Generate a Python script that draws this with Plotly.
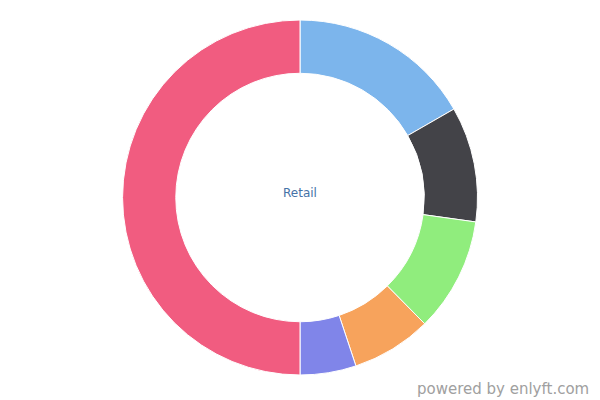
import plotly.graph_objects as go

labels = ["A", "B", "C", "D", "E", "F"]
values = [16.7, 10.5, 10.4, 7.3, 5.1, 50.0]
colors = ["#7cb5ec", "#434348", "#90ed7d", "#f7a35c", "#8085e9", "#f15c80"]
center_label = "Retail"
watermark = "powered by enlyft.com"

fig = go.Figure(go.Pie(
    labels=labels, values=values, hole=0.70, sort=False, direction="clockwise",
    marker=dict(colors=colors, line=dict(color="#ffffff", width=1)),
    textinfo="none", hoverinfo="label+percent", showlegend=False,
))
# page body has 8px default margin; compensate in layout
fig.update_layout(
    width=600, height=400,
    margin=dict(l=0, r=16, t=12, b=33),
    paper_bgcolor="white", plot_bgcolor="white",
    font=dict(family="DejaVu Sans"),
    annotations=[
        dict(text=center_label, x=0.5, y=(367 - 185) / 355, xref="paper", yref="paper",
             xanchor="center", yanchor="middle",
             showarrow=False, font=dict(size=12, color="#4572a7", family="DejaVu Sans")),
        dict(text=watermark, x=583 / 584, y=-14 / 355, xref="paper", yref="paper",
             xanchor="right", yanchor="middle",
             showarrow=False, font=dict(size=15, color="#a0a0a0", family="DejaVu Sans")),
    ],
)
fig.write_html("out.html")
